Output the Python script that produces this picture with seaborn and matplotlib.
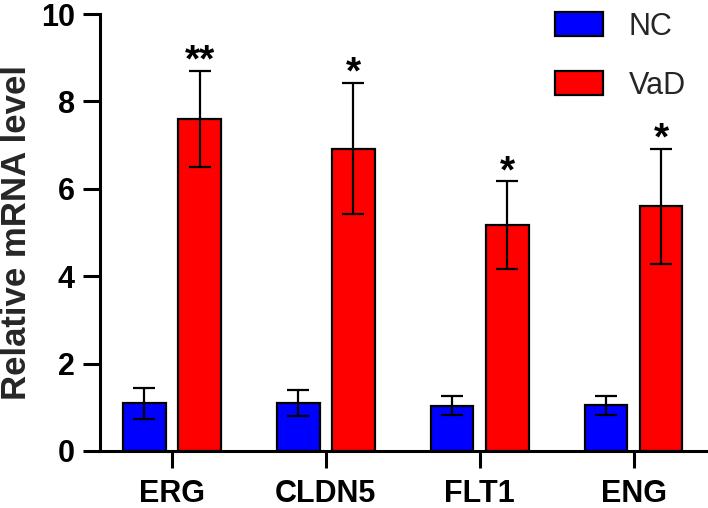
import matplotlib
matplotlib.use("Agg")
import matplotlib.pyplot as plt
import seaborn as sns
import pandas as pd
import numpy as np

genes = ["ERG", "CLDN5", "FLT1", "ENG"]
groups = ["NC", "VaD"]
nc_mean = [1.09, 1.09, 1.04, 1.05]
nc_err = [0.35, 0.30, 0.22, 0.22]
vad_mean = [7.60, 6.92, 5.17, 5.60]
vad_err = [1.10, 1.50, 1.00, 1.32]
stars = ["**", "*", "*", "*"]
yticks = [0, 2, 4, 6, 8, 10]
colors = {"NC": "#0000FF", "VaD": "#FF0000"}

sns.set_style("ticks")
plt.rcParams["font.family"] = ["Liberation Sans", "DejaVu Sans"]

df = pd.DataFrame({
    "gene": genes * 2,
    "group": ["NC"] * 4 + ["VaD"] * 4,
    "value": nc_mean + vad_mean,
    "err": nc_err + vad_err,
})

fig = plt.figure(figsize=(7.08, 5.08), dpi=100)
ax = fig.add_axes([100 / 708, 57 / 508, 606 / 708, 437 / 508])

sns.barplot(data=df, x="gene", y="value", hue="group", order=genes,
            hue_order=groups, palette=colors, width=0.716, gap=0.23,
            errorbar=None, edgecolor="black", linewidth=1.6, ax=ax,
            saturation=1)

# error bars and stars from bar positions
bars = [p for p in ax.patches if p.get_height() > 0][:8]
for i, p in enumerate(bars):
    g = i // 4
    k = i % 4
    xc = p.get_x() + p.get_width() / 2
    h = p.get_height()
    e = df["err"].iloc[i]
    ax.errorbar(xc, h, yerr=e, fmt="none", ecolor="black", elinewidth=1.6,
                capsize=8, capthick=1.6, zorder=5)
    if g == 1:
        ax.annotate(stars[k], xy=(xc, h + e), xytext=(0, -0.5),
                    textcoords="offset points", ha="center", va="baseline",
                    fontsize=28, fontweight="bold", color="black")

ax.set_xlim(-0.468, 3.47)
ax.set_ylim(0, 10)
ax.set_yticks(yticks)
ax.set_yticklabels([str(t) for t in yticks], fontweight="bold", fontsize=22)
ax.set_xticks(range(len(genes)))
ax.set_xticklabels(genes, fontweight="bold", fontsize=22)
ax.set_xlabel("")
ax.set_ylabel("Relative mRNA level", fontweight="bold", fontsize=25, labelpad=6)

for s in ["top", "right"]:
    ax.spines[s].set_visible(False)
for s in ["left", "bottom"]:
    ax.spines[s].set_linewidth(2.2)
    ax.spines[s].set_color("black")
ax.tick_params(axis="both", direction="out", length=12, width=2.2, colors="black")
ax.tick_params(axis="y", pad=6)
ax.tick_params(axis="x", pad=8)

handles, labels = ax.get_legend_handles_labels()
leg = ax.legend(handles, labels, loc="upper right", bbox_to_anchor=(0.987, 1.033),
                frameon=False, fontsize=22, handlelength=1.57, handleheight=0.85,
                labelspacing=0.95, handletextpad=0.85, borderaxespad=0)

fig.savefig("out.png", dpi=100)
